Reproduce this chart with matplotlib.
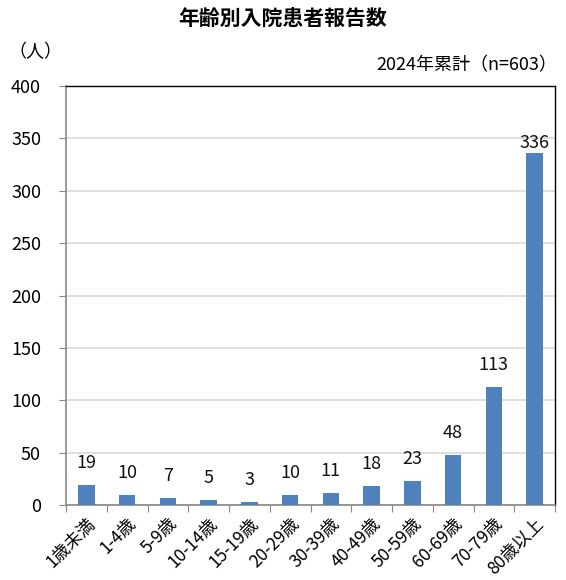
import matplotlib
matplotlib.use("Agg")
import matplotlib.pyplot as plt

plt.rcParams['font.family'] = ['Noto Sans CJK JP', 'DejaVu Sans']

categories = ["1歳未満", "1-4歳", "5-9歳", "10-14歳", "15-19歳", "20-29歳",
              "30-39歳", "40-49歳", "50-59歳", "60-69歳", "70-79歳", "80歳以上"]
values = [19, 10, 7, 5, 3, 10, 11, 18, 23, 48, 113, 336]
yticks = [0, 50, 100, 150, 200, 250, 300, 350, 400]

fig = plt.figure(figsize=(5.66, 5.80), dpi=100)
ax = fig.add_axes([66/566, 1-505/580, (555-66)/566, (505-86)/580])

x = list(range(len(categories)))
bars = ax.bar(x, values, width=0.4, color="#4F81BD", zorder=3)
vmax = max(values)
for xi, v in zip(x, values):
    off = 1 if v == vmax else 13
    ax.annotate(str(v), (xi, v), xytext=(0, off), textcoords="offset pixels",
                ha="center", va="bottom", fontsize=13, color="#111111")

ax.set_xlim(-0.5, len(categories) - 0.5)
ax.set_ylim(0, 400)
ax.set_yticks(yticks)
ax.set_yticklabels([str(t) for t in yticks], fontsize=13)
ax.yaxis.grid(True, color="#D9D9D9", linewidth=1.2, zorder=0)
ax.set_axisbelow(True)

ax.set_xticks([i - 0.5 for i in range(len(categories) + 1)], minor=False)
ax.set_xticklabels([""] * (len(categories) + 1))
ax.set_xticks(x, minor=True)
ax.set_xticklabels(categories, minor=True, rotation=45, ha="right",
                   rotation_mode="anchor", fontsize=12.5)
ax.tick_params(axis="x", which="minor", length=0, pad=7)
ax.tick_params(axis="x", which="major", length=5, color="#888888", direction="out")
ax.tick_params(axis="y", length=5, color="#888888", pad=13)

for s in ["left", "bottom"]:
    ax.spines[s].set_color("#888888")
    ax.spines[s].set_linewidth(1.2)
for s in ["top", "right"]:
    ax.spines[s].set_color("#000000")
    ax.spines[s].set_linewidth(1.0)

fig.text(0.5, 1 - 18/580, "年齢別入院患者報告数", ha="center", va="center",
         fontsize=15, fontweight="bold")
fig.text(557/566, 1 - 65/580, "2024年累計（n=603）", ha="right", va="center", fontsize=13)
fig.text(35/566, 1 - 52/580, "（人）", ha="center", va="center", fontsize=13)

fig.savefig("out.png", dpi=100)
